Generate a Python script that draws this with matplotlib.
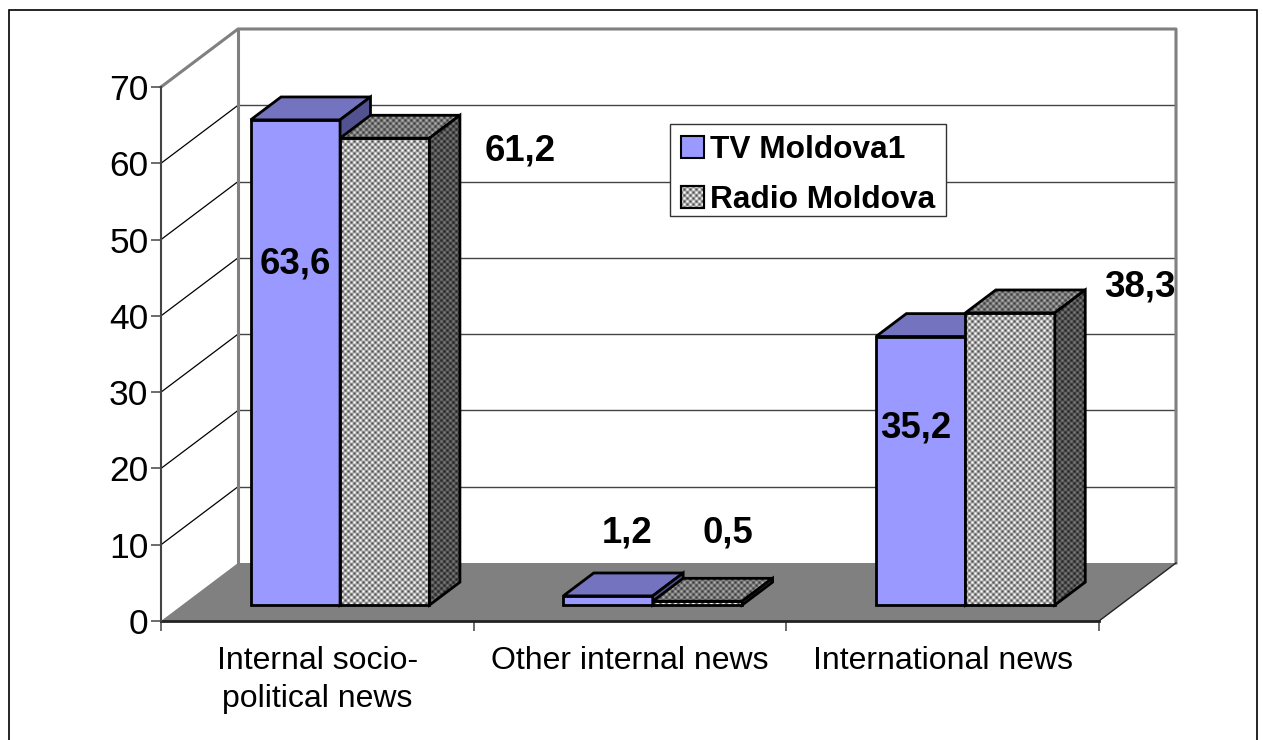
import matplotlib
matplotlib.use('Agg')
import matplotlib.pyplot as plt
import numpy as np
from matplotlib.patches import Polygon, Patch, Rectangle

plt.rcParams['font.family'] = ['Liberation Sans', 'DejaVu Sans']

# Data
categories = ['Internal socio-\npolitical news', 'Other internal news', 'International news']
series_names = ['TV Moldova1', 'Radio Moldova']
tv_values = [63.6, 1.2, 35.2]
radio_values = [61.2, 0.5, 38.3]
y_ticks = [0, 10, 20, 30, 40, 50, 60, 70]

W, H = 1263, 740
fig = plt.figure(figsize=(W / 100, H / 100), dpi=100, facecolor='white')

# front plane of the 3D box, in pixels
left, right, top, bottom = 161, 1099, 87, 621
ax = fig.add_axes([left / W, 1 - bottom / H, (right - left) / W, (bottom - top) / H])
ax.set_xlim(0, 3)
ax.set_ylim(0, 70)
ax.patch.set_alpha(0)
ax.autoscale(False)

# depth of the box, converted to data units
depth_x = 77 * 3 / (right - left)
depth_y = 58 * 70 / (bottom - top)


def pt(x, y, d=0.0):
    return (x + d * depth_x, y + d * depth_y)


# floor and walls
ax.add_patch(Polygon([pt(0, 0), pt(3, 0), pt(3, 0, 1), pt(0, 0, 1)], fc='#808080', ec='none',
                     clip_on=False, zorder=1))
ax.plot(*zip(pt(0, 0), pt(3, 0)), color='#222222', lw=2, clip_on=False, zorder=2)
for v in y_ticks[1:-1]:
    ax.plot(*zip(pt(0, v), pt(0, v, 1)), color='black', lw=0.9, clip_on=False, zorder=1)
    ax.plot(*zip(pt(0, v, 1), pt(3, v, 1)), color='#444444', lw=1, clip_on=False, zorder=1)
ax.plot(*zip(pt(3, 0), pt(3, 0, 1)), color='#222222', lw=1, clip_on=False, zorder=2)
ax.plot(*zip(pt(0, 70), pt(0, 70, 1), pt(3, 70, 1), pt(3, 0, 1)), color='#808080', lw=2.2,
        clip_on=False, zorder=1)
ax.plot(*zip(pt(0, 0, 1), pt(0, 70, 1)), color='#808080', lw=2.2, clip_on=False, zorder=1)

# axes lines and ticks
for s in ['top', 'right', 'bottom']:
    ax.spines[s].set_visible(False)
ax.spines['left'].set_color('#444444')
ax.spines['left'].set_linewidth(1.5)
ax.set_yticks(y_ticks)
ax.set_xticks([0, 1, 2, 3])
ax.set_xticklabels([])
ax.set_xticks([0.5, 1.5, 2.5], minor=True)
ax.set_xticklabels(categories, minor=True, fontsize=23, linespacing=1.35, va='top')
ax.tick_params(axis='x', which='major', length=7.5, width=1.1, color='#444444')
ax.tick_params(axis='x', which='minor', length=0, pad=18)
ax.tick_params(axis='y', length=7.5, width=1.1, color='#444444', labelsize=25.5, pad=1.5)

# dotted fill of the Radio series, one pixel of the array per pixel of the figure
yy, xx = np.mgrid[0:H, 0:W]
checker = 0.5 + 0.5 * np.cos(2 * np.pi * xx / 6) * np.cos(2 * np.pi * yy / 6)
img_extent = ((0 - left) * 3 / (right - left), (W - left) * 3 / (right - left),
              (bottom - H) * 70 / (bottom - top), bottom * 70 / (bottom - top))


def draw_dotted(points, lo, hi, z):
    im = ax.imshow(lo + (hi - lo) * checker, cmap='gray', vmin=0, vmax=255, extent=img_extent,
                   origin='upper', interpolation='nearest', aspect='auto', zorder=z)
    im.set_clip_path(Polygon(points, transform=ax.transData))


def draw_face(points, face, z):
    if isinstance(face, tuple):
        draw_dotted(points, face[0], face[1], z)
        face = 'none'
    ax.add_patch(Polygon(points, fc=face, ec='black', lw=2, clip_on=False, zorder=z))


# 3D bars
bar_w = 0.286
d0, d1 = 0.275, 0.67


def draw_bar(x0, v, colors, z):
    x1 = x0 + bar_w
    draw_face([pt(x0, 0, d0), pt(x1, 0, d0), pt(x1, v, d0), pt(x0, v, d0)], colors[0], z)
    draw_face([pt(x0, v, d0), pt(x1, v, d0), pt(x1, v, d1), pt(x0, v, d1)], colors[1], z)
    draw_face([pt(x1, 0, d0), pt(x1, 0, d1), pt(x1, v, d1), pt(x1, v, d0)], colors[2], z)


tv_colors = ['#9999FF', '#7373BF', '#525290']
radio_colors = [(80, 255), (60, 175), (35, 125)]
for i in range(len(categories)):
    center = i + 0.505
    draw_bar(center - bar_w, tv_values[i], tv_colors, 3)
    draw_bar(center, radio_values[i], radio_colors, 4)

# data labels, placed by hand like in the original
tv_label_pos = [(295, 264), (627, 533), (916, 428)]
radio_label_pos = [(520, 151), (728, 533), (1140, 287)]
for vals, positions in [(tv_values, tv_label_pos), (radio_values, radio_label_pos)]:
    for v, (px, py) in zip(vals, positions):
        fig.text(px / W, 1 - py / H, f'{v:.1f}'.replace('.', ','), fontsize=26.4, fontweight='bold',
                 ha='center', va='center', zorder=10)

# legend box is drawn apart because its padding is uneven in the original
ax.add_patch(Rectangle((670 / W, 1 - 216 / H), 276 / W, 92 / H, fc='white', ec='#333333', lw=1,
                       transform=fig.transFigure, clip_on=False, zorder=5.5))
handles = [Patch(fc=tv_colors[0], ec='black', lw=1.5), Patch(fc='#aaaaaa', ec='black', lw=1.5)]
leg = ax.legend(handles, series_names, loc='upper left', bbox_to_anchor=(681 / W, 1 - 135 / H),
                bbox_transform=fig.transFigure, borderaxespad=0, frameon=False,
                prop={'size': 22.8, 'weight': 'bold'}, handlelength=0.72,
                handleheight=0.72, handletextpad=0.2, labelspacing=0.63, borderpad=0)
leg.set_zorder(6)

# swatch of the dotted fill on top of the second legend handle
fig.canvas.draw()
box = leg.legend_handles[1].get_window_extent().transformed(ax.transData.inverted())
swatch = [(box.x0, box.y0), (box.x1, box.y0), (box.x1, box.y1), (box.x0, box.y1)]
draw_dotted(swatch, radio_colors[0][0], radio_colors[0][1], 7)
ax.add_patch(Polygon(swatch, fc='none', ec='black', lw=1.5, clip_on=False, zorder=7))

# outer chart border (bottom edge runs off the picture)
fig.add_artist(Rectangle((9 / W, -0.02), (1257 - 9) / W, 1.02 - 10 / H, fc='none', ec='black', lw=1.2,
                         transform=fig.transFigure))

fig.savefig('out.png', dpi=100)
